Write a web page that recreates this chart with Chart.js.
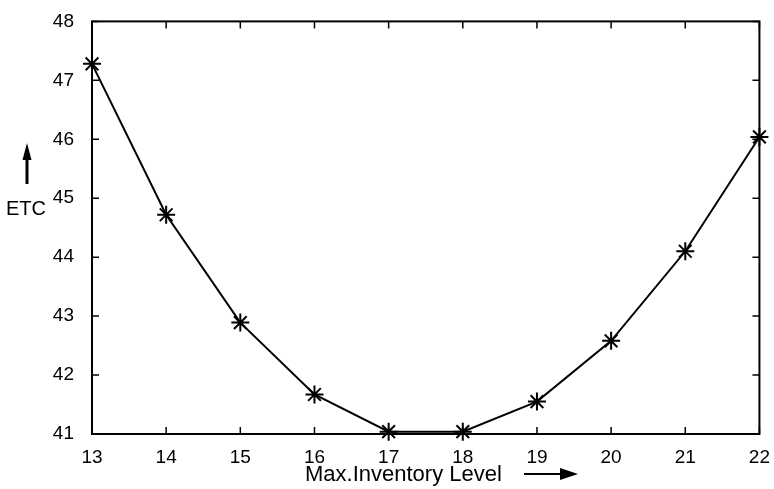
<!DOCTYPE html>
<html>
<head>
<meta charset="utf-8">
<script src="https://cdn.jsdelivr.net/npm/chart.js@4/dist/chart.umd.min.js"></script>
<style>
  html, body { margin: 0; padding: 0; background: #fff; }
  #wrap { width: 774px; height: 489px; }
</style>
</head>
<body>
<div id="wrap"><canvas id="myChart" width="774" height="489"></canvas></div>
<script>
const levels = [13, 14, 15, 16, 17, 18, 19, 20, 21, 22];
const etc = [47.28, 44.72, 42.89, 41.67, 41.04, 41.04, 41.55, 42.58, 44.1, 46.04];
const xTicks = [13, 14, 15, 16, 17, 18, 19, 20, 21, 22];
const yTicks = [41, 42, 43, 44, 45, 46, 47, 48];

const font = { family: "'Liberation Sans', Arial, sans-serif", size: 19 };

// frame, inward ticks and the two arrow labels
const frame = {
    id: "frame",
    afterDraw(chart) {
        const c = chart.ctx;
        const a = chart.chartArea;
        const xs = chart.scales.x, ys = chart.scales.y;
        c.save();
        c.strokeStyle = "#000";
        c.lineWidth = 2;
        c.strokeRect(a.left, a.top, a.right - a.left, a.bottom - a.top);
        c.lineWidth = 1.5;
        c.beginPath();
        xTicks.forEach(v => {
            const px = xs.getPixelForValue(v);
            c.moveTo(px, a.bottom); c.lineTo(px, a.bottom - 7);
            c.moveTo(px, a.top); c.lineTo(px, a.top + 7);
        });
        yTicks.forEach(v => {
            const py = ys.getPixelForValue(v);
            c.moveTo(a.left, py); c.lineTo(a.left + 7, py);
            c.moveTo(a.right, py); c.lineTo(a.right - 7, py);
        });
        c.stroke();

        c.fillStyle = "#000";
        c.textBaseline = "alphabetic";
        c.textAlign = "left";
        c.font = "20px 'Liberation Sans', Arial, sans-serif";
        c.fillText("ETC", 6, 215);
        c.font = "22px 'Liberation Sans', Arial, sans-serif";
        c.fillText("Max.Inventory Level", 305, 481);

        // up arrow
        c.lineWidth = 3;
        c.beginPath();
        c.moveTo(27, 184); c.lineTo(27, 158);
        c.stroke();
        c.beginPath();
        c.moveTo(27, 143); c.lineTo(22.5, 160); c.lineTo(31.5, 160); c.closePath();
        c.fill();
        // right arrow
        c.lineWidth = 2;
        c.beginPath();
        c.moveTo(524, 474); c.lineTo(564, 474);
        c.stroke();
        c.beginPath();
        c.moveTo(578, 474); c.lineTo(560, 468); c.lineTo(560, 480); c.closePath();
        c.fill();
        c.restore();
    }
};

const ctx = document.getElementById("myChart").getContext("2d");
const myChart = new Chart(ctx, {
    type: "line",
    data: {
        datasets: [
            {
                label: "ETC",
                data: levels.map((x, i) => ({ x: x, y: etc[i] })),
                borderColor: "#000",
                backgroundColor: "#000",
                borderWidth: 2,
                pointStyle: "star",
                pointRadius: 9,
                pointBorderWidth: 2,
                pointBorderColor: "#000",
                tension: 0,
                clip: false,
            },
        ],
    },
    options: {
        responsive: false,
        animation: false,
        layout: { padding: { left: 0, top: 20, right: 10, bottom: 0 } },
        plugins: {
            legend: { display: false },
            tooltip: { enabled: false },
        },
        scales: {
            x: {
                type: "linear",
                min: 13,
                max: 22,
                afterBuildTicks: s => { s.ticks = xTicks.map(v => ({ value: v })); },
                afterFit: s => { s.height = 55; },
                grid: { display: false },
                border: { display: false },
                ticks: { color: "#000", font: font, padding: 4, maxRotation: 0 },
            },
            y: {
                min: 41,
                max: 48,
                afterBuildTicks: s => { s.ticks = yTicks.map(v => ({ value: v })); },
                afterFit: s => { s.width = 92; },
                grid: { display: false },
                border: { display: false },
                ticks: { color: "#000", font: font, padding: 10 },
            },
        },
    },
    plugins: [frame],
});
</script>
</body>
</html>
